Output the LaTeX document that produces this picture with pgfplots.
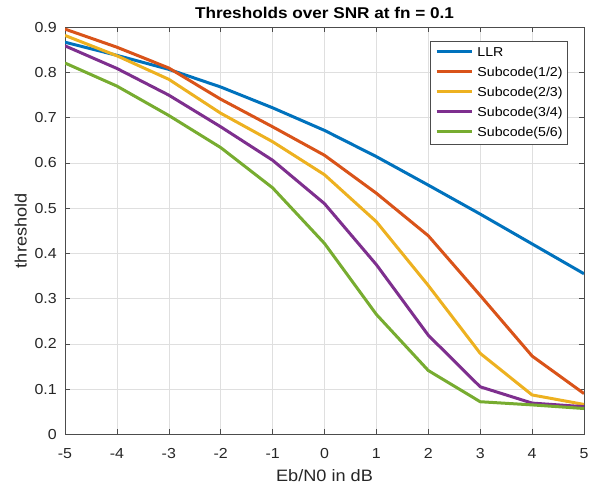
\documentclass[border=0pt]{standalone}
\usepackage{fontspec}
\setmainfont{Liberation Sans}[FakeStretch=1.1]
\usepackage{pgfplots}
\pgfplotsset{compat=1.18}
\definecolor{mblue}{rgb}{0,0.447,0.741}
\definecolor{morange}{rgb}{0.85,0.325,0.098}
\definecolor{myellow}{rgb}{0.929,0.694,0.125}
\definecolor{mpurple}{rgb}{0.494,0.184,0.556}
\definecolor{mgreen}{rgb}{0.466,0.674,0.188}
\definecolor{axcol}{rgb}{0.3,0.3,0.3}
\definecolor{gridcol}{rgb}{0.875,0.875,0.875}
\begin{document}
\begin{tikzpicture}
\begin{axis}[
  name=ax,
  scale only axis,
  width=519bp, height=407bp,
  xmin=-5, xmax=5, ymin=0, ymax=0.9,
  xtick={-5,-4,-3,-2,-1,0,1,2,3,4,5},
  xticklabels={-5,-4,-3,-2,-1,0,1,2,3,4,5},
  ytick={0,0.1,0.2,0.3,0.4,0.5,0.6,0.7,0.8,0.9},
  yticklabels={0,0.1,0.2,0.3,0.4,0.5,0.6,0.7,0.8,0.9},
  tick align=inside,
  major tick length=5bp,
  axis line style={axcol, line width=0.6bp},
  every tick/.style={axcol, line width=0.6bp},
  grid=major,
  major grid style={gridcol, line width=0.6bp},
  tick label style={font=\fontsize{14.5bp}{17bp}\selectfont, text=black!85},
  xticklabel style={anchor=base, yshift=-24bp},
  yticklabel style={anchor=east, inner sep=0pt, xshift=-8bp},
  xlabel={Eb/N0 in dB},
  ylabel={threshold},
  label style={font=\fontsize{16.5bp}{19bp}\selectfont, text=black!85},
  xlabel style={at={(axis description cs:0.5,-0.1155)}, anchor=base},
  ylabel style={at={(axis description cs:-0.0738,0.5)}, anchor=base, rotate=0},
  title={Thresholds over SNR at fn = 0.1},
  title style={at={(axis description cs:0.5,1.0065)}, anchor=base, font=\fontsize{15.6bp}{18bp}\selectfont\bfseries},
  legend style={
    at={(0.969,0.966)}, anchor=north east,
    draw=axcol, line width=0.6bp, fill=white,
    inner xsep=5bp, inner ysep=5bp,
    row sep=7bp, column sep=4.4bp,
    font=\fontsize{12.9bp}{15bp}\selectfont,
    nodes={inner sep=0pt, text height=10bp, text depth=3bp, anchor=base west},
  },
  legend cell align=left,
  legend image code/.code={\draw[#1] (0bp,4.5bp) -- (35bp,4.5bp);},
  every axis plot/.append style={line width=3bp},
]
\addplot[mblue] coordinates {(-5,0.867) (-4,0.838) (-3,0.807) (-2,0.768) (-1,0.722) (0,0.672) (1,0.614) (2,0.551) (3,0.487) (4,0.421) (5,0.355)};
\addlegendentry{LLR}
\addplot[morange] coordinates {(-5,0.896) (-4,0.856) (-3,0.810) (-2,0.741) (-1,0.680) (0,0.617) (1,0.533) (2,0.439) (3,0.307) (4,0.173) (5,0.090)};
\addlegendentry{Subcode(1/2)}
\addplot[myellow] coordinates {(-5,0.882) (-4,0.837) (-3,0.785) (-2,0.710) (-1,0.647) (0,0.574) (1,0.470) (2,0.329) (3,0.179) (4,0.087) (5,0.066)};
\addlegendentry{Subcode(2/3)}
\addplot[mpurple] coordinates {(-5,0.859) (-4,0.809) (-3,0.750) (-2,0.680) (-1,0.606) (0,0.510) (1,0.375) (2,0.219) (3,0.105) (4,0.069) (5,0.061)};
\addlegendentry{Subcode(3/4)}
\addplot[mgreen] coordinates {(-5,0.821) (-4,0.770) (-3,0.705) (-2,0.634) (-1,0.545) (0,0.422) (1,0.265) (2,0.141) (3,0.072) (4,0.065) (5,0.057)};
\addlegendentry{Subcode(5/6)}
\end{axis}
\pgfresetboundingbox
\path ([xshift=-65bp,yshift=-51.7bp]ax.south west) rectangle ([xshift=13bp,yshift=27.3bp]ax.north east);
\end{tikzpicture}
\end{document}
